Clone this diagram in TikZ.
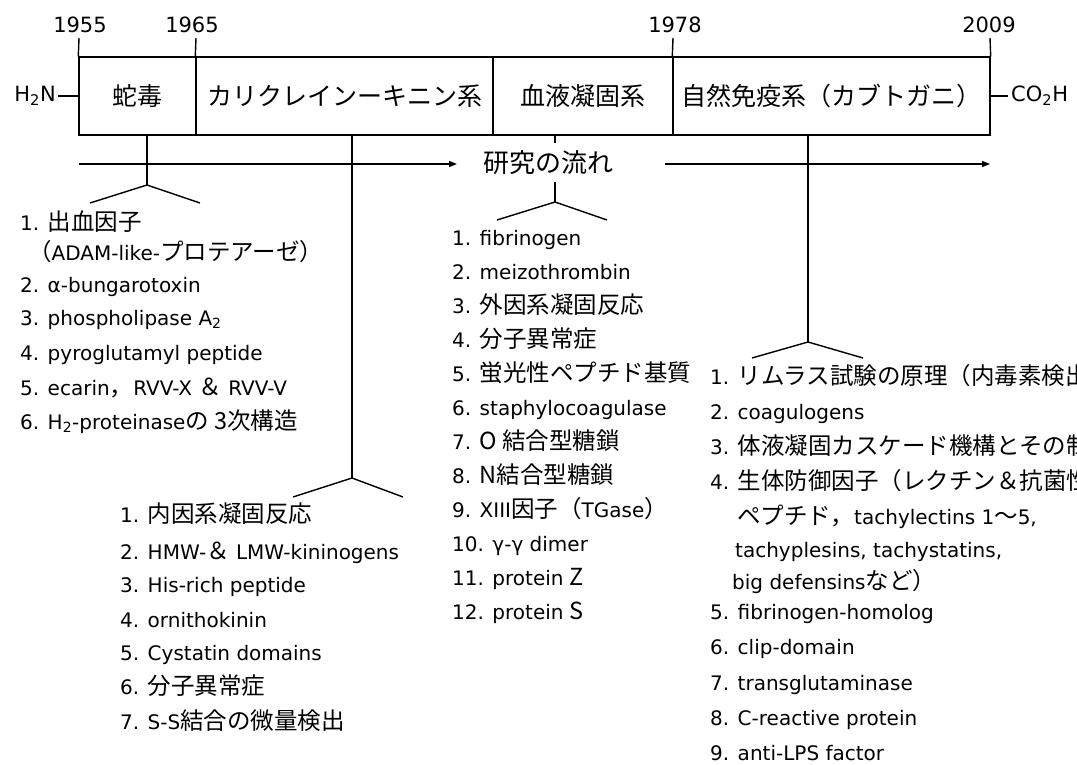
\documentclass[tikz,border=0pt]{standalone}
\usepackage{fontspec}
\setmainfont{DejaVu Sans}
\newfontfamily\jpf{Noto Sans CJK JP}
\usetikzlibrary{arrows.meta}
\newcommand\J[1]{{\jpf\fontsize{23.5}{24}\selectfont #1}}
\tikzset{
  ln/.style={line width=1.4pt, black, line join=round},
  cell/.style={draw, line width=1.4pt, rectangle, inner sep=0pt, minimum height=78pt,
    font=\jpf\fontsize{25}{30}\selectfont},
  year/.style={font=\fontsize{21}{24}\selectfont, inner sep=0pt},
  item/.style={anchor=base west, inner sep=0pt, font=\fontsize{20}{24}\selectfont},
  flowlbl/.style={font=\jpf\fontsize{26}{30}\selectfont, inner sep=0pt},
  arr/.style={ln, -{Triangle[length=8pt,width=6pt]}},
}
\begin{document}
\begin{tikzpicture}[x=1pt,y=-1pt]
\useasboundingbox (0,0) rectangle (1077,765);
\fill[white] (0,0) rectangle (1077,765);

% timeline cells
\node[cell, minimum width=117pt] (c1) at (137.5,96) {蛇毒};
\node[cell, minimum width=297pt] (c2) at (344.5,96) {カリクレインーキニン系};
\node[cell, minimum width=180pt] (c3) at (583,96) {血液凝固系};
\node[cell, minimum width=317pt] (c4) at (831.5,96) {自然免疫系（カブトガニ）};

% years and ticks
\node[year] (y1955) at (80,25) {1955};
\node[year] (y1965) at (192,25) {1965};
\node[year] (y1978) at (675,25) {1978};
\node[year] (y2009) at (989,25) {2009};
\coordinate (t1) at (79,38);
\coordinate (t2) at (196,38);
\coordinate (t3) at (673,38);
\coordinate (t4) at (990,38);
\draw[ln] (c1.north west) -- (t1);
\draw[ln] (c2.north west) -- (t2);
\draw[ln] (c4.north west) -- (t3);
\draw[ln] (c4.north east) -- (t4);

% termini
\node[year, anchor=east, inner sep=2pt] (h2n) at (58,96) {H\textsubscript{2}N};
\node[year, anchor=west, inner sep=3pt] (co2h) at (1008,96) {CO\textsubscript{2}H};
\draw[ln] (h2n.east) -- (c1.west);
\draw[ln] (c4.east) -- (co2h.west);

% research flow arrow
\node[flowlbl] (flow) at (548,163) {研究の流れ};
\coordinate (a1s) at (79,164);
\coordinate (a1e) at (457,164);
\coordinate (a2s) at (665,164);
\coordinate (a2e) at (990,164);
\draw[arr] (a1s) -- (a1e);
\draw[arr] (a2s) -- (a2e);

% branch: snake venom
\coordinate (sT) at (147,135);
\coordinate (sA) at (147,185);
\coordinate (sL) at (90,203);
\coordinate (sR) at (200,203);
\draw[ln] (sT) -- (sA);
\draw[ln] (sL) -- (sA) -- (sR);

% branch: kallikrein-kinin
\coordinate (kT) at (352,135);
\coordinate (kA) at (352,478);
\coordinate (kL) at (293,497);
\coordinate (kR) at (403,497);
\draw[ln] (kT) -- (kA);
\draw[ln] (kL) -- (kA) -- (kR);

% branch: blood coagulation
\coordinate (bT) at (555,135);
\coordinate (bT2) at (555,143);
\coordinate (bM) at (555,182);
\coordinate (bA) at (555,202);
\coordinate (bL) at (497,220);
\coordinate (bR) at (607,220);
\draw[ln] (bT) -- (bT2);
\draw[ln] (bM) -- (bA);
\draw[ln] (bL) -- (bA) -- (bR);

% branch: innate immunity
\coordinate (nT) at (808,135);
\coordinate (nA) at (808,342);
\coordinate (nL) at (752,358);
\coordinate (nR) at (863,358);
\draw[ln] (nT) -- (nA);
\draw[ln] (nL) -- (nA) -- (nR);

% list: snake venom
\node[item] (s1) at (20,230) {1. \J{出血因子}};
\node[item] (s1b) at (28,260) {\J{（}ADAM-like-\J{プロテアーゼ）}};
\node[item] (s2) at (20,292) {2. α-bungarotoxin};
\node[item] (s3) at (20,325) {3. phospholipase A\textsubscript{2}};
\node[item] (s4) at (20,360) {4. pyroglutamyl peptide};
\node[item] (s5) at (20,395) {5. ecarin\J{，}RVV-X \J{＆} RVV-V};
\node[item] (s6) at (20,429) {6. H\textsubscript{2}-proteinase\J{の 3次構造}};

% list: kallikrein-kinin
\node[item] (k1) at (120,522) {1. \J{内因系凝固反応}};
\node[item] (k2) at (120,559) {2. HMW-\J{＆} LMW-kininogens};
\node[item] (k3) at (120,592) {3. His-rich peptide};
\node[item] (k4) at (120,627) {4. ornithokinin};
\node[item] (k5) at (120,660) {5. Cystatin domains};
\node[item] (k6) at (120,694) {6. \J{分子異常症}};
\node[item] (k7) at (120,729) {7. S-S\J{結合の微量検出}};

% list: blood coagulation
\node[item] (m1) at (452,245) {1. fibrinogen};
\node[item] (m2) at (452,279) {2. meizothrombin};
\node[item] (m3) at (452,313) {3. \J{外因系凝固反応}};
\node[item] (m4) at (452,347) {4. \J{分子異常症}};
\node[item] (m5) at (452,381) {5. \J{蛍光性ペプチド基質}};
\node[item] (m6) at (452,415) {6. staphylocoagulase};
\node[item] (m7) at (452,449) {7. \J{O 結合型糖鎖}};
\node[item] (m8) at (452,483) {8. \J{N結合型糖鎖}};
\node[item] (m9) at (452,517) {9. XIII\J{因子（}TGase\J{）}};
\node[item] (m10) at (452,551) {10. γ-γ dimer};
\node[item] (m11) at (452,585) {11. protein \J{Z}};
\node[item] (m12) at (452,619) {12. protein \J{S}};

% list: innate immunity
\node[item] (r1) at (710,384) {1. \J{リムラス試験の原理（内毒素検出}};
\node[item] (r2) at (710,419) {2. coagulogens};
\node[item] (r3) at (710,454) {3. \J{体液凝固カスケード機構とその制}};
\node[item] (r4) at (710,489) {4. \J{生体防御因子（レクチン＆抗菌性}};
\node[item] (r4b) at (737,524) {\J{ペプチド，}tachylectins 1\J{〜}5,};
\node[item] (r4c) at (735,557) {tachyplesins, tachystatins,};
\node[item] (r4d) at (732,589) {big defensins\J{など）}};
\node[item] (r5) at (710,619) {5. fibrinogen-homolog};
\node[item] (r6) at (710,654) {6. clip-domain};
\node[item] (r7) at (710,690) {7. transglutaminase};
\node[item] (r8) at (710,725) {8. C-reactive protein};
\node[item] (r9) at (710,760) {9. anti-LPS factor};
\end{tikzpicture}
\end{document}
